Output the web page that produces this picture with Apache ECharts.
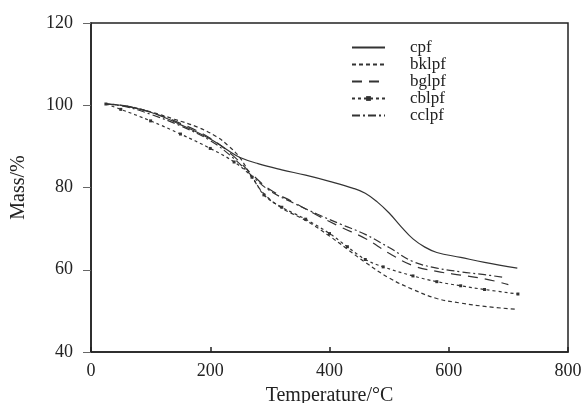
<!DOCTYPE html>
<html>
<head>
<meta charset="utf-8">
<script src="https://cdn.jsdelivr.net/npm/echarts@6/dist/echarts.min.js"></script>
<style>
  html, body { margin: 0; padding: 0; background: #fff; }
  #chart { width: 587px; height: 403px; }
</style>
</head>
<body>
<div id="chart"></div>
<script>
// TGA curves: [temperature °C, mass %]
const seriesNames = ['cpf', 'bklpf', 'bglpf', 'cblpf', 'cclpf'];

const cpf = [[25,100.3],[50,100],[100,98.3],[150,95.3],[200,91.8],[230,89],[250,87.3],[280,85.8],[320,84.3],[360,83],[400,81.5],[440,79.8],[460,78.6],[480,76.5],[500,73.8],[520,70.5],[540,67.5],[560,65.5],[580,64.2],[620,63],[660,61.8],[715,60.4]];
const bklpf = [[25,100.3],[60,99.8],[100,98.4],[140,96.6],[180,94.6],[210,92.4],[230,90.2],[250,87.2],[270,82.5],[290,78.5],[320,75],[360,72],[400,68.2],[430,65],[460,61.8],[500,58],[540,55.2],[580,53],[620,51.9],[660,51.1],[711,50.4]];
const bglpf = [[25,100.3],[60,99.8],[100,98.3],[150,95.6],[200,92],[240,87.5],[270,83.2],[300,79.5],[340,76.4],[380,73.2],[420,70.3],[460,67.6],[500,64],[540,61],[580,59.6],[620,58.7],[660,57.8],[700,56.4]];
const cblpf = [[25,100.3],[50,99],[100,96.2],[150,93],[200,89.5],[240,86.2],[270,82.5],[290,78.2],[320,75.2],[360,72.3],[400,68.8],[430,65.6],[460,62.5],[490,60.7],[540,58.5],[580,57.1],[620,56.1],[660,55.2],[716,54.1]];
const cclpf = [[25,100.3],[60,99.6],[100,97.8],[150,95],[200,91.4],[240,87],[270,82.8],[300,79.2],[340,76.2],[380,73.5],[420,71],[460,68.6],[500,65.4],[540,62],[580,60.4],[620,59.5],[660,58.8],[690,58.2]];

const xTicks = [0, 200, 400, 600, 800];
const yTicks = [40, 60, 80, 100, 120];

const chart = echarts.init(document.getElementById('chart'));
const font = 'Liberation Serif, Times New Roman, serif';
const ink = '#333';

function line(name, data, dash, withSymbol) {
  return {
    name: name,
    type: 'line',
    data: data,
    smooth: 0.4,
    symbol: withSymbol ? 'rect' : 'none',
    symbolSize: 3,
    showSymbol: withSymbol,
    itemStyle: { color: ink },
    lineStyle: { color: ink, width: 1.2, type: dash },
    emphasis: { disabled: true }
  };
}

// only cblpf carries markers in the legend key
const legendData = seriesNames.map(function (n) {
  return n === 'cblpf' ? { name: n } : { name: n, itemStyle: { opacity: 0 } };
});

chart.setOption({
  animation: false,
  backgroundColor: '#fff',
  grid: {
    left: 91, right: 19, top: 23, bottom: 51,
    outerBoundsMode: 'none',
    show: true, borderColor: '#222', borderWidth: 1.5
  },
  legend: {
    data: legendData,
    orient: 'vertical',
    left: 346,
    top: 34,
    itemWidth: 33,
    itemHeight: 6,
    itemGap: 0,
    textStyle: { fontFamily: font, fontSize: 17, lineHeight: 16.5, color: '#222', padding: [0, 0, 0, 20] }
  },
  xAxis: {
    type: 'value',
    min: xTicks[0],
    max: xTicks[xTicks.length - 1],
    interval: 200,
    name: 'Temperature/°C',
    nameLocation: 'middle',
    nameGap: 34,
    nameTextStyle: { fontFamily: font, fontSize: 20, color: '#222' },
    axisLine: { lineStyle: { color: '#222', width: 1.5 } },
    axisTick: { inside: true, length: 5, lineStyle: { color: '#222', width: 1.5 } },
    axisLabel: { fontFamily: font, fontSize: 18, color: '#222', margin: 10 },
    splitLine: { show: false }
  },
  yAxis: {
    type: 'value',
    min: yTicks[0],
    max: yTicks[yTicks.length - 1],
    interval: 20,
    name: 'Mass/%',
    nameLocation: 'middle',
    nameRotate: 90,
    nameGap: 62,
    nameTextStyle: { fontFamily: font, fontSize: 20, color: '#222' },
    axisLine: { lineStyle: { color: '#222', width: 1.5 } },
    axisTick: { length: 8, lineStyle: { color: '#666', width: 1 } },
    axisLabel: { fontFamily: font, fontSize: 18, color: '#222', margin: 18 },
    splitLine: { show: false }
  },
  series: [
    line('cpf', cpf, 'solid', false),
    line('bklpf', bklpf, [4, 3], false),
    line('bglpf', bglpf, [10, 7], false),
    line('cblpf', cblpf, [3, 3], true),
    line('cclpf', cclpf, [8, 3, 2, 3], false)
  ]
});
</script>
</body>
</html>
